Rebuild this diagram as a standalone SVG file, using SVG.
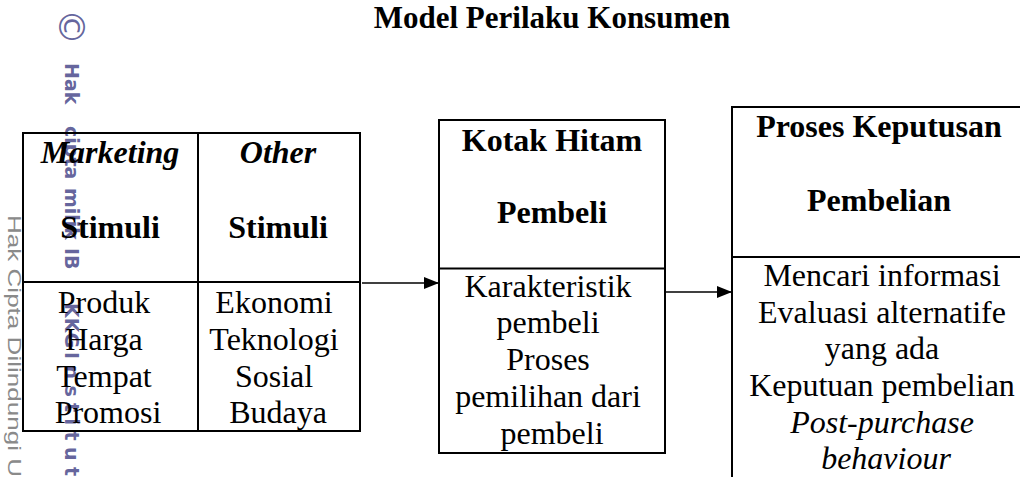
<svg xmlns="http://www.w3.org/2000/svg" width="1020" height="477" viewBox="0 0 1020 477">
<style>
.box{fill:none;stroke:#000;stroke-width:2}
.t{font-family:"Liberation Serif","Times New Roman",serif;font-size:32px;fill:#000;text-anchor:middle}
.b{font-weight:bold}
.i{font-style:italic}
.conn{stroke:#000;stroke-width:1.3;fill:none}
.wm1{font-family:"DejaVu Sans",sans-serif;font-weight:bold;font-size:19px;fill:#4a4a8c;fill-opacity:0.85}
.wm2{font-family:"Liberation Sans","DejaVu Sans",sans-serif;font-size:19px;fill:#8a8a8a}
</style>
<defs>
<marker id="ah" markerUnits="userSpaceOnUse" markerWidth="16" markerHeight="12" refX="15" refY="6" orient="auto">
<path d="M0,0 L15,6 L0,12 Z" fill="#000"/>
</marker>
</defs>
<rect width="1020" height="477" fill="#fff"/>
<g id="watermark">
<text class="wm1" style="font-size:36px;font-weight:normal" transform="translate(59,0) rotate(90)" x="9" y="0">©</text>
<text class="wm1" transform="translate(65,0) rotate(90)" y="0"><tspan x="63">Hak</tspan><tspan x="126">cipta</tspan><tspan x="188">milik</tspan><tspan x="248">IB</tspan><tspan x="303">KKG</tspan><tspan x="352" textLength="124" lengthAdjust="spacing">Institut</tspan></text>
<text class="wm2" transform="translate(8,0) rotate(90)" x="215" y="0" textLength="262" lengthAdjust="spacingAndGlyphs">Hak Cipta Dilindungi U</text>
</g>
<text id="title" class="t b" x="552" y="28" style="font-size:31px">Model Perilaku Konsumen</text>
<g id="stimuli">
<rect class="box" x="23" y="133" width="337" height="298"/>
<line class="box" x1="198" y1="133" x2="198" y2="431"/>
<line class="box" x1="23" y1="282" x2="360" y2="282"/>
<text class="t b i" x="110" y="163">Marketing</text>
<text class="t b" x="110" y="237.5">Stimuli</text>
<text class="t b i" x="278" y="163">Other</text>
<text class="t b" x="278" y="237.5">Stimuli</text>
<text class="t" x="108">
<tspan x="108" y="313.3">Produk</tspan>
<tspan x="108" y="350">Harga</tspan>
<tspan x="108" y="386.7">Tempat</tspan>
<tspan x="108" y="423.3">Promosi</tspan>
</text>
<text class="t" x="278">
<tspan x="278" y="313.3">Ekonomi</tspan>
<tspan x="278" y="350">Teknologi</tspan>
<tspan x="278" y="386.7">Sosial</tspan>
<tspan x="278" y="423.3">Budaya</tspan>
</text>
</g>
<g id="kotak-hitam">
<rect class="box" x="439" y="120" width="226" height="333"/>
<line class="box" x1="439" y1="268.5" x2="665" y2="268.5"/>
<text class="t b" x="552" y="151">Kotak Hitam</text>
<text class="t b" x="552" y="223.3">Pembeli</text>
<text class="t">
<tspan x="552" y="296.7">Karakteristik</tspan>
<tspan x="552" y="333.4">pembeli</tspan>
<tspan x="552" y="370.1">Proses</tspan>
<tspan x="552" y="406.8">pemilihan dari</tspan>
<tspan x="552" y="443.5">pembeli</tspan>
</text>
</g>
<g id="proses-keputusan">
<rect class="box" x="732" y="107" width="310" height="400"/>
<line class="box" x1="732" y1="257" x2="1042" y2="257"/>
<text class="t b" x="879" y="137.3">Proses Keputusan</text>
<text class="t b" x="879" y="210.7">Pembelian</text>
<text class="t">
<tspan x="886" y="286">Mencari informasi</tspan>
<tspan x="886" y="322.7">Evaluasi alternatife</tspan>
<tspan x="886" y="359.4">yang ada</tspan>
<tspan x="886" y="396">Keputuan pembelian</tspan>
<tspan x="886" y="432.7" font-style="italic">Post-purchase</tspan>
<tspan x="886" y="469.4" font-style="italic">behaviour</tspan>
</text>
</g>
<g id="connectors">
<line class="conn" x1="362" y1="283" x2="439" y2="283" marker-end="url(#ah)"/>
<line class="conn" x1="666" y1="292" x2="732" y2="292" marker-end="url(#ah)"/>
</g>
</svg>
